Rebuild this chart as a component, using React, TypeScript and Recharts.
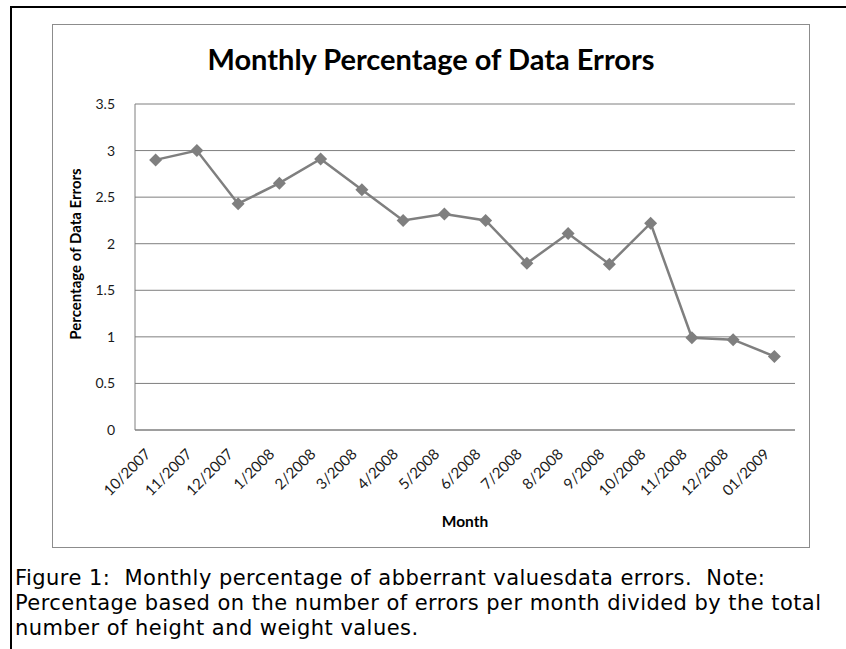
import React from 'react';
import { LineChart, Line, XAxis, YAxis, CartesianGrid } from 'recharts';

const months = [
    '10/2007', '11/2007', '12/2007', '1/2008', '2/2008', '3/2008', '4/2008', '5/2008',
    '6/2008', '7/2008', '8/2008', '9/2008', '10/2008', '11/2008', '12/2008', '01/2009',
];
const errorPct = [2.9, 3.0, 2.43, 2.65, 2.91, 2.58, 2.25, 2.32, 2.25, 1.79, 2.11, 1.78, 2.22, 0.99, 0.97, 0.79];
const yTicks = [0, 0.5, 1, 1.5, 2, 2.5, 3, 3.5];

const data = months.map((m, i) => ({ month: m, pct: errorPct[i] }));

const FONT = 'Lato, Carlito, Calibri, sans-serif';
const GRAY = '#7f7f7f';

const Diamond = (props: any) => {
    const { cx, cy } = props;
    if (cx == null || cy == null) return null;
    const r = 6.5;
    return (
        <polygon
            points={`${cx},${cy - r} ${cx + r},${cy} ${cx},${cy + r} ${cx - r},${cy}`}
            fill={GRAY}
        />
    );
};

const MonthTick = (props: any) => {
    const { x, y, payload } = props;
    return (
        <text
            x={x - 4}
            y={y + 17}
            transform={`rotate(-45, ${x - 4}, ${y + 17})`}
            textAnchor="end"
            fontFamily={FONT}
            fontSize={15}
            fill="#1a1a1a"
        >
            {payload.value}
        </text>
    );
};

export default function App() {
    return (
        <div style={{ position: 'absolute', left: 0, top: 0, width: 846, height: 649, background: '#fff', overflow: 'hidden' }}>
            <div style={{ position: 'absolute', left: 10, top: 6, width: 840, height: 660, borderTop: '2px solid #000', borderLeft: '2px solid #000' }} />

            <div style={{ position: 'absolute', left: 52, top: 24, width: 756, height: 522, border: '1px solid #8c8c8c', background: '#fff' }}>
                <div style={{ position: 'absolute', left: 0, top: 16, width: '100%', textAlign: 'center', fontFamily: FONT, fontWeight: 700, fontSize: 29, color: '#000' }}>
                    Monthly Percentage of Data Errors
                </div>
                <div style={{ position: 'absolute', left: -1, top: -1 }}>
                    <LineChart width={757} height={523} data={data} margin={{ top: 80, right: 14, bottom: 0, left: 0 }}>
                        <CartesianGrid vertical={false} stroke={GRAY} strokeWidth={1} />
                        <XAxis
                            dataKey="month"
                            height={117}
                            padding={{ left: 20.6, right: 20.6 }}
                            axisLine={{ stroke: GRAY }}
                            tickLine={false}
                            interval={0}
                            tick={<MonthTick />}
                            label={{
                                content: (p: any) => {
                                    const vb = p.viewBox || {};
                                    return (
                                        <text x={vb.x + vb.width / 2} y={vb.y + 97} textAnchor="middle" fontFamily={FONT} fontWeight={700} fontSize={15.5} fill="#000">
                                            Month
                                        </text>
                                    );
                                },
                            }}
                        />
                        <YAxis
                            width={83}
                            domain={[0, 3.5]}
                            ticks={yTicks}
                            axisLine={{ stroke: GRAY }}
                            tickLine={false}
                            tickMargin={14}
                            tick={{ fontFamily: FONT, fontSize: 14, fill: '#1a1a1a' }}
                            label={{
                                content: (p: any) => {
                                    const vb = p.viewBox || {};
                                    const cx = 23;
                                    const cy = vb.y + vb.height / 2 - 13;
                                    return (
                                        <text x={cx} y={cy} transform={`rotate(-90, ${cx}, ${cy})`} textAnchor="middle" dominantBaseline="central" fontFamily={FONT} fontWeight={700} fontSize={15} fill="#000">
                                            Percentage of Data Errors
                                        </text>
                                    );
                                },
                            }}
                        />
                        <Line
                            dataKey="pct"
                            stroke={GRAY}
                            strokeWidth={2.5}
                            dot={<Diamond />}
                            activeDot={false}
                            isAnimationActive={false}
                        />
                    </LineChart>
                </div>
            </div>

            <div style={{ position: 'absolute', left: 15, top: 566, fontFamily: '"DejaVu Sans", Verdana, sans-serif', fontSize: 21, letterSpacing: '0.45px', lineHeight: '25px', color: '#000', whiteSpace: 'pre' }}>
                <div>Figure 1:  Monthly percentage of abberrant valuesdata errors.  Note:</div>
                <div>Percentage based on the number of errors per month divided by the total</div>
                <div>number of height and weight values.</div>
            </div>
        </div>
    );
}
